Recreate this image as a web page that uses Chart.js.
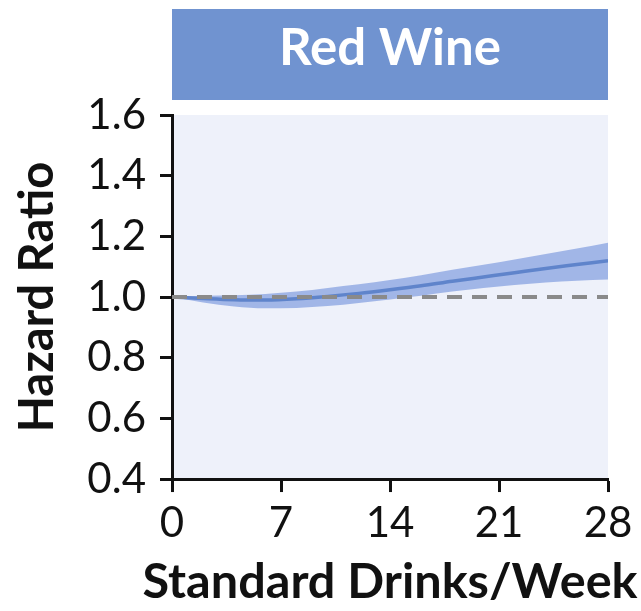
<!DOCTYPE html>
<html>
<head>
<meta charset="utf-8">
<script src="https://cdn.jsdelivr.net/npm/chart.js@4/dist/chart.umd.min.js"></script>
<style>
  html, body { margin: 0; padding: 0; background: #ffffff; }
  #wrap { width: 641px; height: 611px; }
</style>
</head>
<body>
<div id="wrap"><canvas id="c" width="641" height="611"></canvas></div>
<script>
// Red wine intake vs hazard ratio (spline estimate with 95% CI)
const panelTitle = 'Red Wine';
const drinksPerWeek = [0, 2, 4, 6, 8, 10, 12, 14, 16, 18, 20, 22, 24, 26, 28];
const hazardRatio   = [1.000, 0.995, 0.991, 0.990, 0.994, 1.002, 1.012, 1.024, 1.037, 1.052, 1.066, 1.080, 1.094, 1.107, 1.120];
const ciUpper       = [1.000, 1.004, 1.006, 1.010, 1.018, 1.030, 1.042, 1.056, 1.072, 1.090, 1.106, 1.124, 1.142, 1.160, 1.179];
const ciLower       = [1.000, 0.982, 0.969, 0.963, 0.964, 0.970, 0.980, 0.992, 1.004, 1.018, 1.030, 1.040, 1.048, 1.054, 1.058];
const referenceHR   = 1.0;
const xTickValues   = [0, 7, 14, 21, 28];
const yTickValues   = [0.4, 0.6, 0.8, 1.0, 1.2, 1.4, 1.6];
const xAxisTitle    = 'Standard Drinks/Week';
const yAxisTitle    = 'Hazard Ratio';

const FONT = 'Lato, "Open Sans", "DejaVu Sans", sans-serif';
const toPoints = ys => drinksPerWeek.map((x, i) => ({ x, y: ys[i] }));

// plot background, coloured header strip; header and x-axis caption centred on the plot
const panelDecor = {
  id: 'panelDecor',
  afterLayout(chart) {
    const a = chart.chartArea;
    const t = chart.titleBlock;
    if (t) { t.left = a.left; t.right = a.right; t.width = a.right - a.left; }
    const s = (chart.boxes || []).find(b => b !== t && b.options && b.options.text === xAxisTitle);
    if (s) {
      const mid = (a.left + a.right) / 2, half = 250;
      s.left = mid - half; s.right = mid + half; s.width = 2 * half;
    }
  },
  beforeDraw(chart) {
    const { ctx, chartArea: a } = chart;
    ctx.save();
    ctx.fillStyle = '#eef1fa';
    ctx.fillRect(a.left, a.top, a.right - a.left, a.bottom - a.top);
    ctx.fillStyle = '#7093d0';
    ctx.fillRect(a.left, 9, a.right - a.left, 91);
    ctx.restore();
  }
};

new Chart(document.getElementById('c'), {
  type: 'line',
  data: {
    datasets: [
      {
        label: 'upper',
        data: toPoints(ciUpper),
        borderWidth: 0,
        pointRadius: 0,
        backgroundColor: 'rgba(140,165,225,0.78)',
        fill: '+1',
        cubicInterpolationMode: 'monotone',
        order: 3
      },
      {
        label: 'lower',
        data: toPoints(ciLower),
        borderWidth: 0,
        pointRadius: 0,
        fill: false,
        cubicInterpolationMode: 'monotone',
        order: 3
      },
      {
        label: 'HR',
        data: toPoints(hazardRatio),
        borderColor: '#5f84cb',
        borderWidth: 3.5,
        pointRadius: 0,
        fill: false,
        cubicInterpolationMode: 'monotone',
        order: 2
      },
      {
        label: 'ref',
        data: [{ x: drinksPerWeek[0], y: referenceHR }, { x: drinksPerWeek[drinksPerWeek.length - 1], y: referenceHR }],
        borderColor: '#8a8a8a',
        borderWidth: 4,
        borderDash: [15, 10],
        pointRadius: 0,
        fill: false,
        order: 1
      }
    ]
  },
  options: {
    responsive: false,
    animation: false,
    layout: { padding: { top: 0, right: 33, bottom: 0, left: 0 } },
    plugins: {
      legend: { display: false },
      tooltip: { enabled: false },
      title: {
        display: true,
        text: panelTitle,
        color: '#ffffff',
        font: { family: FONT, size: 51, weight: 'bold' },
        padding: { top: 18, bottom: 35.8 },
        align: 'center'
      },
      subtitle: {
        display: true,
        position: 'bottom',
        text: xAxisTitle,
        color: '#111',
        font: { family: FONT, size: 48.6, weight: 'bold', lineHeight: 1.1 },
        padding: { top: 0, bottom: 2.3 },
        align: 'center'
      }
    },
    scales: {
      x: {
        type: 'linear',
        min: 0, max: 28,
        afterBuildTicks: s => { s.ticks = xTickValues.map(v => ({ value: v })); },
        afterFit: s => { s.height = 76.2; },
        grid: { drawOnChartArea: false, drawTicks: true, tickLength: 13, tickWidth: 3, tickColor: '#111' },
        border: { display: true, color: '#111', width: 3 },
        ticks: { color: '#111', font: { family: FONT, size: 42 }, padding: 6, maxRotation: 0 },
        title: { display: false }
      },
      y: {
        type: 'linear',
        min: 0.4, max: 1.6,
        afterBuildTicks: s => { s.ticks = yTickValues.map(v => ({ value: v })); },
        afterFit: s => { s.width = 172; },
        grid: { drawOnChartArea: false, drawTicks: true, tickLength: 12, tickWidth: 3, tickColor: '#111' },
        border: { display: true, color: '#111', width: 3 },
        ticks: { color: '#111', font: { family: FONT, size: 42 }, padding: 14, callback: v => Number(v).toFixed(1) },
        title: { display: true, text: yAxisTitle, color: '#111', font: { family: FONT, size: 47, weight: 'bold' }, padding: { top: 10, bottom: 0 } }
      }
    }
  },
  plugins: [panelDecor]
});
</script>
</body>
</html>
